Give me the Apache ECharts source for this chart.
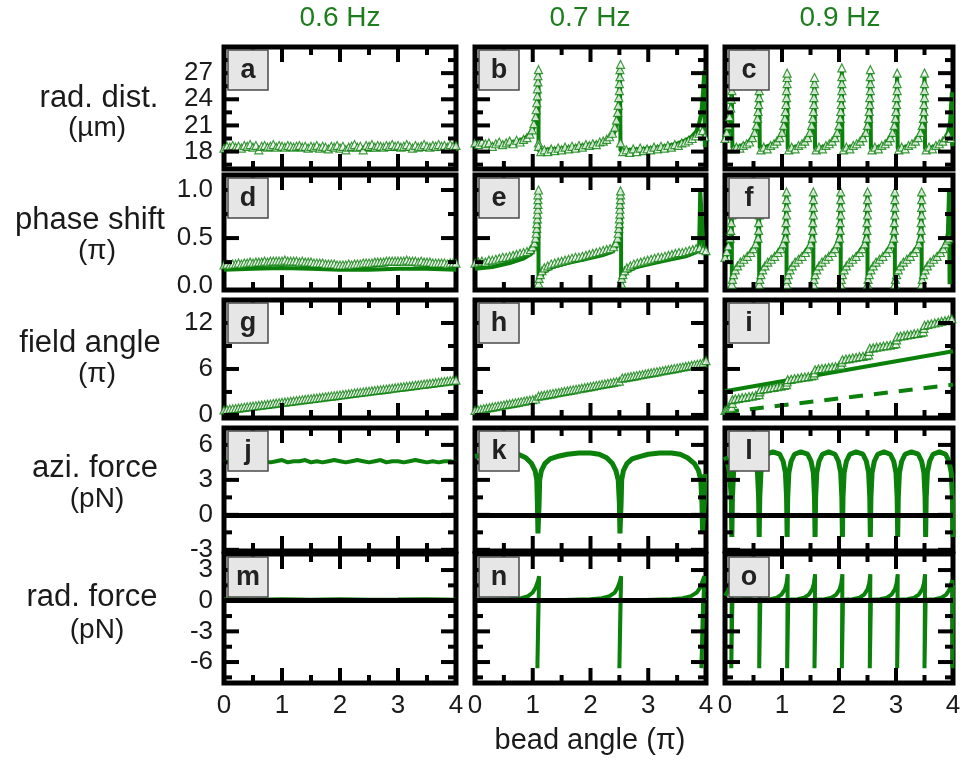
<!DOCTYPE html>
<html>
<head>
<meta charset="utf-8">
<script src="https://cdn.jsdelivr.net/npm/echarts@6/dist/echarts.min.js"></script>
<style>
html, body { margin: 0; padding: 0; background: #fff; }
#chart { width: 966px; height: 769px; }
</style>
</head>
<body>
<div id="chart"></div>
<script>
const green = '#0b800b';
const font = '"Liberation Sans", Arial, sans-serif';

// labels
const freqs = ['0.6 Hz', '0.7 Hz', '0.9 Hz'];
const rowNames = [['rad. dist.', '(µm)'], ['phase shift', '(π)'], ['field angle', '(π)'], ['azi. force', '(pN)'], ['rad. force', '(pN)']];
const letters = ['a', 'b', 'c', 'd', 'e', 'f', 'g', 'h', 'i', 'j', 'k', 'l', 'm', 'n', 'o'];

// axes
const xTicks = [0, 1, 2, 3, 4];
const xInnerTicks = [1, 2, 3];
const xMinorTicks = [0.5, 1.5, 2.5, 3.5];
const yRanges = [[16, 30], [-0.04, 1.156], [-0.4, 15], [-3.1, 7.45], [-8.05, 4.57]];
const yTicks = [[18, 21, 24, 27], [0, 0.5, 1], [0, 6, 12], [-3, 0, 3, 6], [-6, -3, 0, 3]];
const yMinorTicks = [[16.5, 19.5, 22.5, 25.5, 28.5], [0.25, 0.75], [3, 9], [-1.5, 1.5, 4.5], [-7.5, -4.5, -1.5, 1.5]];

// shared x sampling for the dense flat bands
const xFine = [0,0.05,0.1,0.15,0.2,0.25,0.3,0.35,0.4,0.45,0.5,0.55,0.6,0.65,0.7,0.75,0.8,0.85,0.9,0.95,
  1,1.05,1.1,1.15,1.2,1.25,1.3,1.35,1.4,1.45,1.5,1.55,1.6,1.65,1.7,1.75,1.8,1.85,1.9,1.95,
  2,2.05,2.1,2.15,2.2,2.25,2.3,2.35,2.4,2.45,2.5,2.55,2.6,2.65,2.7,2.75,2.8,2.85,2.9,2.95,
  3,3.05,3.1,3.15,3.2,3.25,3.3,3.35,3.4,3.45,3.5,3.55,3.6,3.65,3.7,3.75,3.8,3.85,3.9,3.95,4];

// a: rad. dist. 0.6 Hz
const aTriY = [18.4,18.6,18.5,18.7,18.5,18.6,18.4,18.7,18.6,18.8,18.5,18.7,18.2,18.6,18.7,18.5,18.6,18.8,18.5,18.7,
  18.6,18.5,18.7,18.6,18.5,18.6,18.7,18.5,18.6,18.4,18.6,18.5,18.7,18.4,18.6,18.5,18.3,18.6,18.5,18.7,
  18.4,18.6,18.2,18.5,18.6,18.8,18.5,18.6,18.2,18.7,18.6,18.8,18.5,18.7,18.6,18.5,18.7,18.6,18.8,18.6,
  18.7,18.5,18.6,18.8,18.6,18.4,18.7,18.5,18.6,18.8,18.6,18.5,18.7,18.6,18.8,18.6,18.7,18.5,18.8,18.6,18.7];
const aLine = [[0,18.2],[0.25,18.3],[0.5,18.2],[0.75,18.3],[1,18.25],[1.25,18.2],[1.5,18.15],[1.75,18.2],[2,18.2],
  [2.25,18.15],[2.5,18.1],[2.75,18.2],[3,18.25],[3.25,18.2],[3.5,18.3],[3.75,18.25],[4,18.3]];

// b: rad. dist. 0.7 Hz
const bLine = [[0,18.8],[0.2,18.7],[0.4,18.8],[0.6,19.0],[0.75,19.2],[0.85,19.5],[0.95,19.9],[1.0,20.4],[1.04,21.2],
  [1.07,22.5],[1.09,24.5],[1.1,27.2],[1.1,18.1],[1.2,18.2],[1.4,18.3],[1.6,18.4],[1.8,18.6],[2.0,18.8],[2.15,19.0],
  [2.28,19.3],[2.36,19.7],[2.42,20.3],[2.46,21.5],[2.49,23.5],[2.51,27.5],[2.52,18.1],[2.7,18.2],[2.9,18.3],[3.1,18.4],
  [3.3,18.6],[3.5,18.9],[3.65,19.3],[3.75,19.7],[3.83,20.3],[3.88,21.2],[3.92,22.5],[3.95,25],[3.97,27.3],[3.98,18.5]];
const bTri = [[0,19.0],[0.06,18.8],[0.12,19.1],[0.18,18.9],[0.24,19.0],[0.3,18.6],[0.36,18.9],[0.42,19.1],[0.48,18.8],
  [0.54,19.0],[0.6,19.2],[0.66,18.9],[0.72,19.3],[0.78,19.1],[0.84,19.4],[0.9,19.6],[0.95,20.0],[0.99,20.5],[1.02,21.2],
  [1.05,22.0],[1.06,22.8],[1.07,23.6],[1.08,24.4],[1.08,25.2],[1.09,26.0],[1.09,26.7],[1.1,27.4],[1.1,19.0],[1.1,18.6],
  [1.14,18.0],[1.2,18.2],[1.26,18.0],[1.32,18.3],[1.38,18.1],[1.44,18.4],[1.5,18.2],[1.56,18.5],[1.62,18.3],[1.68,18.6],
  [1.74,18.4],[1.8,18.7],[1.86,18.5],[1.92,18.8],[1.98,18.7],[2.04,18.9],[2.1,18.8],[2.16,19.1],[2.22,19.2],[2.28,19.4],
  [2.33,19.7],[2.38,20.1],[2.42,20.8],[2.45,21.6],[2.47,22.5],[2.48,23.3],[2.49,24.2],[2.5,25.0],[2.5,25.8],[2.51,26.6],
  [2.51,27.4],[2.52,28.0],[2.52,19.0],[2.56,18.0],[2.62,18.2],[2.68,17.9],[2.74,18.3],[2.8,18.0],[2.86,18.4],[2.92,18.1],
  [2.98,18.3],[3.04,18.2],[3.1,18.5],[3.16,18.3],[3.22,18.6],[3.28,18.4],[3.34,18.7],[3.4,18.5],[3.46,18.8],[3.52,18.7],
  [3.58,19.0],[3.64,19.1],[3.7,19.3],[3.76,19.5],[3.82,19.8],[3.88,20.1],[3.94,20.4],[3.98,19.7]];

// c: rad. dist. 0.9 Hz
const cLine = [[0,19.2],[0.05,20.0],[0.09,21.5],[0.11,23.5],[0.12,26.5],[0.13,18.4],[0.25,18.6],[0.38,18.9],[0.47,19.4],
  [0.53,20.2],[0.57,21.6],[0.59,23.5],[0.6,26.8],[0.61,18.4],[0.74,18.6],[0.86,18.9],[0.95,19.4],[1.01,20.2],[1.05,21.6],
  [1.08,23.5],[1.09,26.6],[1.1,18.3],[1.23,18.5],[1.35,18.8],[1.44,19.3],[1.5,20.1],[1.54,21.5],[1.56,23.4],[1.57,26.2],
  [1.58,18.3],[1.71,18.5],[1.83,18.8],[1.92,19.3],[1.98,20.1],[2.02,21.6],[2.04,23.6],[2.05,27.2],[2.06,18.3],[2.19,18.5],
  [2.31,18.8],[2.41,19.3],[2.47,20.1],[2.51,21.6],[2.54,23.6],[2.55,27.0],[2.56,18.3],[2.69,18.5],[2.81,18.8],[2.89,19.3],
  [2.95,20.1],[2.99,21.6],[3.01,23.6],[3.02,26.8],[3.03,18.3],[3.16,18.5],[3.28,18.8],[3.37,19.3],[3.43,20.1],[3.47,21.6],
  [3.49,23.6],[3.5,26.8],[3.51,18.3],[3.64,18.5],[3.76,18.8],[3.85,19.3],[3.91,20.1],[3.95,21.5],[3.98,24.8],[3.99,18.6]];
const cTri = [[0,19.5],[0.03,20.2],[0.06,21.0],[0.08,22.0],[0.1,23.0],[0.11,24.0],[0.12,25.0],
  [0.15,18.3],[0.2,18.5],[0.26,18.4],[0.32,18.7],[0.38,18.9],[0.43,19.1],[0.48,19.6],[0.52,20.2],[0.55,21.0],[0.57,21.8],[0.58,22.6],[0.59,23.4],[0.6,24.2],[0.6,25.0],
  [0.63,18.2],[0.68,18.5],[0.74,18.3],[0.8,18.7],[0.86,18.9],[0.91,19.2],[0.96,19.6],[1.0,20.2],[1.03,21.0],[1.05,21.8],[1.06,22.6],[1.07,23.4],[1.08,24.2],[1.08,25.0],[1.09,25.8],[1.09,26.5],[1.09,27.0],
  [1.12,18.2],[1.17,18.5],[1.23,18.3],[1.29,18.7],[1.35,18.9],[1.4,19.2],[1.45,19.6],[1.49,20.2],[1.52,21.0],[1.54,21.8],[1.55,22.6],[1.56,23.4],[1.56,24.2],[1.57,25.0],[1.57,25.8],[1.57,26.5],
  [1.6,18.2],[1.65,18.5],[1.71,18.3],[1.77,18.7],[1.83,18.9],[1.88,19.2],[1.93,19.6],[1.97,20.2],[2.0,21.0],[2.02,21.8],[2.03,22.6],[2.04,23.4],[2.04,24.2],[2.05,25.0],[2.05,25.8],[2.05,26.6],[2.05,27.6],
  [2.08,18.2],[2.13,18.5],[2.19,18.3],[2.25,18.7],[2.31,18.9],[2.37,19.2],[2.42,19.6],[2.47,20.2],[2.5,21.0],[2.52,21.8],[2.53,22.6],[2.54,23.4],[2.54,24.2],[2.55,25.0],[2.55,25.8],[2.55,26.6],[2.55,27.4],
  [2.58,18.2],[2.63,18.5],[2.69,18.3],[2.75,18.7],[2.81,18.9],[2.86,19.2],[2.9,19.6],[2.94,20.2],[2.97,21.0],[2.99,21.8],[3.0,22.6],[3.01,23.4],[3.01,24.2],[3.02,25.0],[3.02,25.8],[3.02,27.0],
  [3.05,18.2],[3.1,18.5],[3.16,18.3],[3.22,18.7],[3.28,18.9],[3.34,19.2],[3.39,19.6],[3.43,20.2],[3.46,21.0],[3.48,21.8],[3.49,22.6],[3.49,23.4],[3.5,24.2],[3.5,25.0],[3.5,25.8],[3.5,27.0],
  [3.53,18.2],[3.58,18.5],[3.64,18.3],[3.7,18.7],[3.76,18.9],[3.82,19.2],[3.87,19.6],[3.92,20.0],[3.96,19.5]];

// d: phase shift 0.6 Hz
const dTriY = [0.22,0.23,0.22,0.23,0.23,0.24,0.23,0.24,0.24,0.25,0.24,0.25,0.25,0.25,0.26,0.25,0.26,0.26,0.26,0.26,
  0.26,0.27,0.26,0.26,0.26,0.26,0.25,0.26,0.25,0.25,0.25,0.24,0.24,0.24,0.24,0.23,0.23,0.23,0.23,0.22,
  0.22,0.22,0.22,0.23,0.22,0.23,0.23,0.23,0.24,0.24,0.24,0.24,0.25,0.25,0.25,0.25,0.26,0.26,0.26,0.26,
  0.26,0.26,0.26,0.27,0.26,0.26,0.26,0.25,0.26,0.25,0.25,0.25,0.24,0.24,0.24,0.24,0.24,0.23,0.24,0.24,0.24];
const dLine = [[0,0.17],[0.5,0.18],[1,0.19],[1.5,0.18],[2,0.17],[2.5,0.17],[3,0.18],[3.5,0.18],[4,0.17]];

// e: phase shift 0.7 Hz
const eLine = [[0,0.18],[0.3,0.2],[0.6,0.24],[0.85,0.29],[0.98,0.34],[1.04,0.4],[1.07,0.52],[1.09,0.75],[1.1,0.99],
  [1.1,0.01],[1.13,0.09],[1.2,0.15],[1.35,0.2],[1.6,0.24],[1.9,0.28],[2.2,0.32],[2.38,0.36],[2.46,0.42],[2.5,0.55],
  [2.52,0.75],[2.53,0.99],[2.53,0.01],[2.56,0.09],[2.63,0.15],[2.8,0.2],[3.1,0.24],[3.4,0.28],[3.65,0.31],[3.82,0.35],
  [3.88,0.38],[3.9,0.99],[3.96,0.38],[3.97,0.36]];
const eTri = [[0,0.24],[0.06,0.25],[0.12,0.26],[0.18,0.25],[0.24,0.27],[0.3,0.27],[0.36,0.28],[0.42,0.29],[0.48,0.3],
  [0.54,0.3],[0.6,0.31],[0.66,0.32],[0.72,0.33],[0.78,0.34],[0.84,0.35],[0.9,0.36],[0.96,0.38],[1.0,0.41],[1.03,0.45],
  [1.05,0.5],[1.06,0.55],[1.07,0.6],[1.07,0.65],[1.08,0.7],[1.08,0.75],[1.09,0.8],[1.09,0.85],[1.09,0.9],[1.09,0.95],[1.1,1.0],
  [1.1,0.03],[1.11,0.08],[1.13,0.12],[1.16,0.16],[1.2,0.19],[1.26,0.21],[1.32,0.23],[1.38,0.24],[1.44,0.25],[1.5,0.26],
  [1.56,0.27],[1.62,0.28],[1.68,0.29],[1.74,0.3],[1.8,0.3],[1.86,0.31],[1.92,0.32],[1.98,0.33],[2.04,0.34],[2.1,0.35],
  [2.16,0.36],[2.22,0.37],[2.28,0.38],[2.34,0.39],[2.4,0.41],[2.44,0.45],[2.47,0.5],[2.48,0.55],[2.49,0.6],[2.5,0.65],
  [2.5,0.7],[2.51,0.75],[2.51,0.8],[2.51,0.85],[2.52,0.9],[2.52,0.95],[2.52,0.99],
  [2.53,0.03],[2.54,0.08],[2.56,0.12],[2.59,0.16],[2.63,0.19],[2.69,0.21],[2.75,0.23],[2.81,0.24],[2.87,0.25],[2.93,0.26],
  [2.99,0.27],[3.05,0.28],[3.11,0.29],[3.17,0.3],[3.23,0.3],[3.29,0.31],[3.35,0.32],[3.41,0.33],[3.47,0.34],[3.53,0.35],
  [3.59,0.35],[3.65,0.36],[3.71,0.37],[3.77,0.38],[3.83,0.39],[3.89,0.4],[3.95,0.38],[4.0,0.37]];

// f: phase shift 0.9 Hz
const fLine = [[0,0.28],[0.06,0.36],[0.1,0.5],[0.12,0.98],[0.12,0.0],
  [0.15,0.12],[0.22,0.2],[0.32,0.27],[0.44,0.34],[0.54,0.42],[0.58,0.55],[0.6,0.98],[0.6,0.0],
  [0.63,0.12],[0.7,0.2],[0.8,0.27],[0.92,0.34],[1.02,0.42],[1.06,0.55],[1.08,0.98],[1.08,0.0],
  [1.11,0.12],[1.18,0.2],[1.28,0.27],[1.39,0.34],[1.49,0.42],[1.53,0.55],[1.55,0.98],[1.55,0.0],
  [1.58,0.12],[1.65,0.2],[1.75,0.27],[1.87,0.34],[1.97,0.42],[2.01,0.55],[2.03,0.98],[2.03,0.0],
  [2.06,0.12],[2.13,0.2],[2.23,0.27],[2.34,0.34],[2.44,0.42],[2.48,0.55],[2.5,0.98],[2.5,0.0],
  [2.53,0.12],[2.6,0.2],[2.7,0.27],[2.82,0.34],[2.92,0.42],[2.96,0.55],[2.98,0.98],[2.98,0.0],
  [3.01,0.12],[3.08,0.2],[3.18,0.27],[3.29,0.34],[3.39,0.42],[3.43,0.55],[3.45,0.98],[3.45,0.0],
  [3.48,0.12],[3.55,0.2],[3.65,0.27],[3.77,0.34],[3.87,0.42],[3.91,0.55],[3.93,0.98],[3.94,0.02]];
const fTri = [[0,0.3],[0.03,0.36],[0.06,0.42],[0.09,0.5],[0.1,0.58],[0.11,0.66],[0.12,0.74],
  [0.12,0.02],[0.13,0.07],[0.15,0.12],[0.18,0.17],[0.22,0.21],[0.27,0.25],[0.33,0.28],[0.39,0.31],[0.45,0.35],[0.5,0.39],[0.54,0.44],[0.58,0.5],[0.59,0.58],[0.59,0.66],[0.6,0.74],[0.6,0.82],[0.6,0.9],[0.6,0.98],
  [0.6,0.02],[0.61,0.07],[0.63,0.12],[0.66,0.17],[0.7,0.21],[0.75,0.25],[0.81,0.28],[0.87,0.31],[0.93,0.35],[0.98,0.39],[1.02,0.44],[1.06,0.5],[1.07,0.58],[1.07,0.66],[1.08,0.74],[1.08,0.82],[1.08,0.9],[1.08,0.98],
  [1.08,0.02],[1.09,0.07],[1.11,0.12],[1.14,0.17],[1.18,0.21],[1.23,0.25],[1.29,0.28],[1.35,0.31],[1.41,0.35],[1.46,0.39],[1.5,0.44],[1.53,0.5],[1.54,0.58],[1.54,0.66],[1.55,0.74],[1.55,0.82],[1.55,0.9],[1.55,0.98],
  [1.55,0.02],[1.56,0.07],[1.58,0.12],[1.61,0.17],[1.65,0.21],[1.7,0.25],[1.76,0.28],[1.82,0.31],[1.88,0.35],[1.93,0.39],[1.97,0.44],[2.01,0.5],[2.02,0.58],[2.02,0.66],[2.03,0.74],[2.03,0.82],[2.03,0.9],[2.03,0.98],
  [2.03,0.02],[2.04,0.07],[2.06,0.12],[2.09,0.17],[2.13,0.21],[2.18,0.25],[2.24,0.28],[2.3,0.31],[2.36,0.35],[2.41,0.39],[2.45,0.44],[2.48,0.5],[2.49,0.58],[2.49,0.66],[2.5,0.74],[2.5,0.82],[2.5,0.9],[2.5,0.98],
  [2.5,0.02],[2.51,0.07],[2.53,0.12],[2.56,0.17],[2.6,0.21],[2.65,0.25],[2.71,0.28],[2.77,0.31],[2.83,0.35],[2.88,0.39],[2.92,0.44],[2.96,0.5],[2.97,0.58],[2.97,0.66],[2.98,0.74],[2.98,0.82],[2.98,0.9],[2.98,0.98],
  [2.98,0.02],[2.99,0.07],[3.01,0.12],[3.04,0.17],[3.08,0.21],[3.13,0.25],[3.19,0.28],[3.25,0.31],[3.31,0.35],[3.36,0.39],[3.4,0.44],[3.43,0.5],[3.44,0.58],[3.44,0.66],[3.45,0.74],[3.45,0.82],[3.45,0.9],[3.45,0.98],
  [3.45,0.02],[3.46,0.07],[3.48,0.12],[3.51,0.17],[3.55,0.21],[3.6,0.25],[3.66,0.28],[3.72,0.31],[3.78,0.35],[3.83,0.39],[3.87,0.44],[3.9,0.48],[3.93,0.5]];

// g: field angle 0.6 Hz
const gTriY = [0.65,0.70,0.75,0.80,0.84,0.89,0.94,0.99,1.04,1.09,1.14,1.19,1.24,1.28,1.33,1.38,1.43,1.48,1.53,1.58,
  1.63,1.67,1.72,1.77,1.82,1.87,1.92,1.97,2.02,2.07,2.11,2.16,2.21,2.26,2.31,2.36,2.41,2.46,2.5,2.55,
  2.6,2.65,2.7,2.75,2.8,2.85,2.9,2.94,2.99,3.04,3.09,3.14,3.19,3.24,3.28,3.33,3.38,3.43,3.48,3.53,
  3.58,3.63,3.67,3.72,3.77,3.82,3.87,3.92,3.97,4.02,4.06,4.11,4.16,4.21,4.26,4.31,4.36,4.41,4.45,4.5,4.55];
const gLine = [[0,0.35],[1,1.35],[2,2.3],[3,3.3],[4,4.25]];

// h: field angle 0.7 Hz
const hTriY = [0.6,0.67,0.74,0.81,0.88,0.95,1.02,1.09,1.16,1.23,1.3,1.37,1.44,1.51,1.58,1.65,1.72,1.79,1.86,1.93,2.0,2.08,
  2.45,2.52,2.58,2.65,2.72,2.79,2.86,2.93,3.0,3.07,3.14,3.21,3.28,3.35,3.42,3.49,3.56,3.63,3.7,3.77,3.84,3.91,3.98,4.05,4.12,4.19,4.26,4.33,
  4.4,4.8,4.86,4.93,5.0,5.07,5.14,5.21,5.28,5.35,5.42,5.49,5.56,5.63,5.7,5.77,5.84,5.91,5.98,6.05,6.12,6.19,6.26,6.33,6.4,6.47,6.54,6.61,6.68,6.8,7.1];
const hLine = [[0,0.35],[1.08,1.85],[1.1,2.3],[2.5,4.2],[2.52,4.6],[3.95,6.6],[4,6.9]];

// i: field angle 0.9 Hz
const iTri = [[0,0.6],[0.03,0.7],[0.06,0.8],[0.09,0.9],[0.12,1.0],[0.13,1.5],
  [0.13,2.0],[0.18,2.1],[0.24,2.15],[0.3,2.25],[0.36,2.3],[0.42,2.4],[0.48,2.45],[0.54,2.55],[0.6,2.65],[0.61,3.0],
  [0.62,3.3],[0.68,3.4],[0.74,3.45],[0.8,3.55],[0.86,3.6],[0.92,3.7],[0.98,3.75],[1.04,3.85],[1.08,3.95],[1.09,4.3],
  [1.1,4.6],[1.16,4.65],[1.22,4.75],[1.28,4.8],[1.34,4.9],[1.4,4.95],[1.46,5.0],[1.52,5.1],[1.56,5.2],[1.57,5.5],
  [1.58,5.9],[1.64,6.0],[1.7,6.05],[1.76,6.1],[1.82,6.2],[1.88,6.25],[1.94,6.3],[2.0,6.4],[2.04,6.5],[2.05,6.9],
  [2.06,7.2],[2.12,7.3],[2.18,7.35],[2.24,7.45],[2.3,7.5],[2.36,7.6],[2.42,7.65],[2.48,7.75],[2.52,7.85],[2.53,8.3],
  [2.54,8.7],[2.6,8.75],[2.66,8.85],[2.72,8.9],[2.78,9.0],[2.84,9.05],[2.9,9.1],[2.96,9.2],[3.0,9.3],[3.01,9.8],
  [3.02,10.2],[3.08,10.3],[3.14,10.35],[3.2,10.45],[3.26,10.5],[3.32,10.6],[3.38,10.65],[3.44,10.75],[3.48,10.85],[3.49,11.3],
  [3.5,11.7],[3.56,11.8],[3.62,11.9],[3.68,12.0],[3.74,12.1],[3.8,12.2],[3.86,12.3],[3.92,12.4],[3.98,12.55]];
const iSolid = [[0,3.1],[4,8.3]];
const iDash = [[0,0.35],[4,3.95]];

// j, k, l: azimuthal force
const jLine = [[0,4.5],[0.1,4.6],[0.2,4.5],[0.3,4.7],[0.4,4.6],[0.5,4.5],[0.6,4.7],[0.7,4.6],[0.8,4.5],[0.9,4.6],
  [1,4.7],[1.1,4.5],[1.2,4.6],[1.3,4.6],[1.4,4.7],[1.5,4.5],[1.6,4.6],[1.7,4.5],[1.8,4.6],[1.9,4.7],[2,4.6],[2.1,4.5],
  [2.2,4.6],[2.3,4.7],[2.4,4.6],[2.5,4.5],[2.6,4.6],[2.7,4.7],[2.8,4.5],[2.9,4.6],[3,4.6],[3.1,4.5],[3.2,4.6],[3.3,4.7],
  [3.4,4.6],[3.5,4.5],[3.6,4.6],[3.7,4.5],[3.8,4.6],[3.9,4.6],[4,4.5]];
const kLine = [[0,5.0],[0.2,5.2],[0.4,5.3],[0.6,5.3],[0.75,5.2],[0.88,4.9],[0.98,4.4],[1.04,3.8],[1.07,3.0],[1.08,1.0],
  [1.09,-1.6],[1.1,-1.6],[1.11,1.0],[1.12,3.0],[1.15,3.8],[1.21,4.4],[1.3,4.8],[1.42,5.0],[1.6,5.2],[1.8,5.3],[2.0,5.3],
  [2.15,5.2],[2.28,4.9],[2.38,4.4],[2.44,3.8],[2.48,3.0],[2.5,1.0],[2.51,-1.6],[2.52,-1.6],[2.53,1.0],[2.54,3.0],[2.57,3.8],
  [2.63,4.4],[2.72,4.8],[2.85,5.0],[3.0,5.2],[3.2,5.3],[3.4,5.3],[3.55,5.2],[3.68,4.9],[3.8,4.4],[3.87,3.8],[3.91,3.0],
  [3.93,1.0],[3.94,-1.4],[3.96,-1.4],[3.97,1.0],[3.98,3.5]];
const lLine = [[0,5.0],[0.04,4.6],[0.08,3.6],[0.11,1.5],[0.12,-1.9],[0.13,1.5],
  [0.15,3.6],[0.19,4.6],[0.25,5.2],[0.36,5.4],[0.47,5.2],[0.53,4.6],[0.57,3.6],[0.59,1.5],[0.6,-1.9],[0.61,1.5],
  [0.63,3.6],[0.67,4.6],[0.73,5.2],[0.84,5.4],[0.96,5.2],[1.02,4.6],[1.06,3.6],[1.08,1.5],[1.09,-1.9],[1.1,1.5],
  [1.12,3.6],[1.16,4.6],[1.22,5.2],[1.33,5.4],[1.45,5.2],[1.51,4.6],[1.55,3.6],[1.57,1.5],[1.58,-1.9],[1.59,1.5],
  [1.61,3.6],[1.65,4.6],[1.71,5.2],[1.82,5.4],[1.93,5.2],[1.99,4.6],[2.03,3.6],[2.05,1.5],[2.06,-1.9],[2.07,1.5],
  [2.09,3.6],[2.13,4.6],[2.19,5.2],[2.3,5.4],[2.42,5.2],[2.48,4.6],[2.52,3.6],[2.54,1.5],[2.55,-1.9],[2.56,1.5],
  [2.58,3.6],[2.62,4.6],[2.68,5.2],[2.79,5.4],[2.9,5.2],[2.96,4.6],[3.0,3.6],[3.02,1.5],[3.03,-1.9],[3.04,1.5],
  [3.06,3.6],[3.1,4.6],[3.16,5.2],[3.27,5.4],[3.39,5.2],[3.45,4.6],[3.49,3.6],[3.51,1.5],[3.52,-1.9],[3.53,1.5],
  [3.55,3.6],[3.59,4.6],[3.65,5.2],[3.76,5.4],[3.87,5.2],[3.93,4.6],[3.97,3.6],[3.99,1.5],[4.0,-1.9]];

// m, n, o: radial force
const mLine = [[0,0.15],[0.5,0.1],[1,0.15],[1.5,0.1],[2,0.15],[2.5,0.1],[3,0.12],[3.5,0.15],[4,0.1]];
const nLine = [[0,0.1],[0.3,0.1],[0.6,0.15],[0.8,0.25],[0.92,0.45],[1.0,0.8],[1.05,1.3],[1.09,1.9],[1.11,2.4],[1.08,-6.6],[1.1,0.05],
  [1.4,0.05],[1.7,0.1],[2.0,0.15],[2.2,0.25],[2.33,0.45],[2.42,0.8],[2.47,1.3],[2.51,1.9],[2.53,2.4],[2.5,-6.6],[2.52,0.05],
  [2.8,0.05],[3.1,0.1],[3.4,0.15],[3.6,0.25],[3.74,0.45],[3.84,0.8],[3.9,1.3],[3.94,1.9],[3.97,2.4],[3.92,-6.6],[3.95,0.1],[4,0.3]];
const oLine = [[0,0.5],[0.05,0.9],[0.09,1.6],[0.12,2.6],[0.11,-6.6],[0.13,0.1],
  [0.3,0.15],[0.42,0.3],[0.5,0.6],[0.56,1.1],[0.59,1.7],[0.61,2.6],[0.6,-6.6],[0.62,0.1],
  [0.79,0.15],[0.91,0.3],[0.99,0.6],[1.05,1.1],[1.08,1.7],[1.1,2.6],[1.09,-6.6],[1.11,0.1],
  [1.27,0.15],[1.39,0.3],[1.47,0.6],[1.53,1.1],[1.56,1.7],[1.58,2.6],[1.57,-6.6],[1.59,0.1],
  [1.75,0.15],[1.87,0.3],[1.95,0.6],[2.01,1.1],[2.04,1.7],[2.06,2.6],[2.05,-6.6],[2.07,0.1],
  [2.24,0.15],[2.36,0.3],[2.44,0.6],[2.5,1.1],[2.53,1.7],[2.55,2.6],[2.54,-6.6],[2.56,0.1],
  [2.72,0.15],[2.84,0.3],[2.92,0.6],[2.98,1.1],[3.01,1.7],[3.03,2.6],[3.02,-6.6],[3.04,0.1],
  [3.2,0.15],[3.32,0.3],[3.4,0.6],[3.46,1.1],[3.49,1.7],[3.51,2.6],[3.5,-6.6],[3.52,0.1],
  [3.68,0.15],[3.8,0.3],[3.88,0.6],[3.94,1.1],[3.97,1.7],[3.99,2.0],[3.99,-6.6],[4.0,1.5]];

// layout of the 5x3 panel grid (pixels)
const colBox = [[224, 232], [475, 231], [725, 228]];
const rowBox = [[47, 122], [175, 115], [300, 118], [428, 123], [554, 129]];

const pairs = (xs, ys) => xs.map((x, i) => [x, ys[i]]);

function line(data, extra) {
    return Object.assign({
        type: 'line', data: data, symbol: 'none', showSymbol: false,
        lineStyle: { color: green, width: 4 }, z: 3, animation: false
    }, extra || {});
}
function tris(data) {
    return {
        type: 'scatter', data: data, symbol: 'triangle', symbolSize: 8,
        itemStyle: { color: '#fff', borderColor: green, borderWidth: 1.2 },
        z: 4, animation: false
    };
}
function zeroLine() {
    return {
        type: 'line', data: [], z: 5, animation: false,
        markLine: {
            silent: true, symbol: 'none', animation: false, label: { show: false },
            lineStyle: { color: '#000', width: 5, type: 'solid' },
            data: [{ yAxis: 0 }]
        }
    };
}

// inward ticks on all four sides, drawn through the panel's own scales
// side: 0 bottom, 1 top, 2 left, 3 right; third value is the length in px
function tickSeries(r) {
    const y0 = yRanges[r][0], y1 = yRanges[r][1];
    const yInner = yTicks[r].filter(v => v > y0 + 0.05 && v < y1 - 0.05);
    const data = [];
    xInnerTicks.forEach(v => data.push([v, 0, 15], [v, 1, 15]));
    xMinorTicks.forEach(v => data.push([v, 0, 8], [v, 1, 8]));
    yInner.forEach(v => data.push([v, 2, 15], [v, 3, 15]));
    yMinorTicks[r].forEach(v => data.push([v, 2, 8], [v, 3, 8]));
    return {
        type: 'custom', data: data, clip: false, silent: true, animation: false, z: 6,
        renderItem: (params, api) => {
            const v = api.value(0), side = api.value(1), len = api.value(2);
            let p, q;
            if (side === 0) { p = api.coord([v, y0]); q = [p[0], p[1] - len]; }
            else if (side === 1) { p = api.coord([v, y1]); q = [p[0], p[1] + len]; }
            else if (side === 2) { p = api.coord([0, v]); q = [p[0] + len, p[1]]; }
            else { p = api.coord([4, v]); q = [p[0] - len, p[1]]; }
            return {
                type: 'line', shape: { x1: p[0], y1: p[1], x2: q[0], y2: q[1] },
                style: { stroke: '#000', lineWidth: 4 }
            };
        }
    };
}

const panelSeries = [
    [line(aLine, { lineStyle: { color: green, width: 2 } }), tris(pairs(xFine, aTriY))],
    [line(bLine), tris(bTri)],
    [line(cLine), tris(cTri)],
    [line(dLine), tris(pairs(xFine, dTriY))],
    [line(eLine), tris(eTri)],
    [line(fLine), tris(fTri)],
    [line(gLine, { lineStyle: { color: green, width: 3 } }), tris(pairs(xFine, gTriY))],
    [line(hLine, { lineStyle: { color: green, width: 3 } }), tris(pairs(xFine, hTriY))],
    [line(iSolid), line(iDash, { lineStyle: { color: green, width: 4, type: [14, 11] } }),
     line(iTri, { lineStyle: { color: green, width: 4 } }), tris(iTri)],
    [zeroLine(), line(jLine)],
    [zeroLine(), line(kLine, { lineStyle: { color: green, width: 5 } })],
    [zeroLine(), line(lLine, { lineStyle: { color: green, width: 5 } })],
    [zeroLine(), line(mLine)],
    [zeroLine(), line(nLine)],
    [zeroLine(), line(oLine)]
];

const grids = [], xAxes = [], yAxes = [], series = [], graphics = [];
const labelStyle = { color: '#1a1a1a', fontSize: 26, lineHeight: 18, fontFamily: font };

for (let r = 0; r < 5; r++) {
    for (let c = 0; c < 3; c++) {
        const p = r * 3 + c;
        const gx = colBox[c][0], gy = rowBox[r][0];
        grids.push({
            left: gx, width: colBox[c][1], top: gy, height: rowBox[r][1],
            show: true, borderColor: '#000', borderWidth: 5, backgroundColor: 'transparent'
        });
        xAxes.push({
            gridIndex: p, type: 'value', min: 0, max: 4, position: 'bottom',
            axisLine: { show: false, onZero: false }, axisTick: { show: false }, splitLine: { show: false },
            axisLabel: Object.assign({
                show: r === 4, customValues: xTicks, margin: 14, showMinLabel: true, showMaxLabel: true
            }, labelStyle)
        });
        yAxes.push({
            gridIndex: p, type: 'value', min: yRanges[r][0], max: yRanges[r][1], position: 'left',
            axisLine: { show: false, onZero: false }, axisTick: { show: false }, splitLine: { show: false },
            axisLabel: Object.assign({
                show: c === 0, customValues: yTicks[r], margin: 11, showMinLabel: true, showMaxLabel: true,
                formatter: v => (r === 1 ? v.toFixed(1) : String(v))
            }, labelStyle)
        });
        panelSeries[p].concat([tickSeries(r)]).forEach(s => {
            s.xAxisIndex = p;
            s.yAxisIndex = p;
            series.push(s);
        });
        graphics.push({
            type: 'rect', z: 100,
            shape: { x: gx + 4, y: gy + 3, width: 40, height: 40 },
            style: { fill: '#e6e6e6', stroke: '#4a4a4a', lineWidth: 1.5 }
        });
        graphics.push({
            type: 'text', z: 101, x: gx + 24, y: gy + 24,
            style: {
                text: letters[p], font: 'bold 27px ' + font, fill: '#222',
                align: 'center', verticalAlign: 'middle', textAlign: 'center', textVerticalAlign: 'middle'
            }
        });
    }
}

function centerText(t, x, y, size, color) {
    return {
        type: 'text', z: 101, x: x, y: y,
        style: { text: t, font: size + 'px ' + font, fill: color, align: 'center', verticalAlign: 'middle', textAlign: 'center', textVerticalAlign: 'middle' }
    };
}
// column titles
const titleX = [340, 590, 840];
freqs.forEach((t, i) => graphics.push(centerText(t, titleX[i], 18, 28, '#1e7d1e')));
// row titles
const rowTextY = [[98, 128], [220, 251], [343, 374], [468, 499], [597, 630]];
const rowTextX = [99, 90, 90, 95, 92];
rowNames.forEach((n, i) => {
    graphics.push(centerText(n[0], rowTextX[i], rowTextY[i][0], 31, '#1a1a1a'));
    graphics.push(centerText(n[1], 97, rowTextY[i][1], 28, '#1a1a1a'));
});
graphics.push(centerText('bead angle (π)', 590, 741, 29, '#1a1a1a'));

const chart = echarts.init(document.getElementById('chart'), null, { renderer: 'canvas' });
chart.setOption({
    animation: false,
    backgroundColor: '#fff',
    grid: grids,
    xAxis: xAxes,
    yAxis: yAxes,
    series: series,
    graphic: { elements: graphics }
});
</script>
</body>
</html>
